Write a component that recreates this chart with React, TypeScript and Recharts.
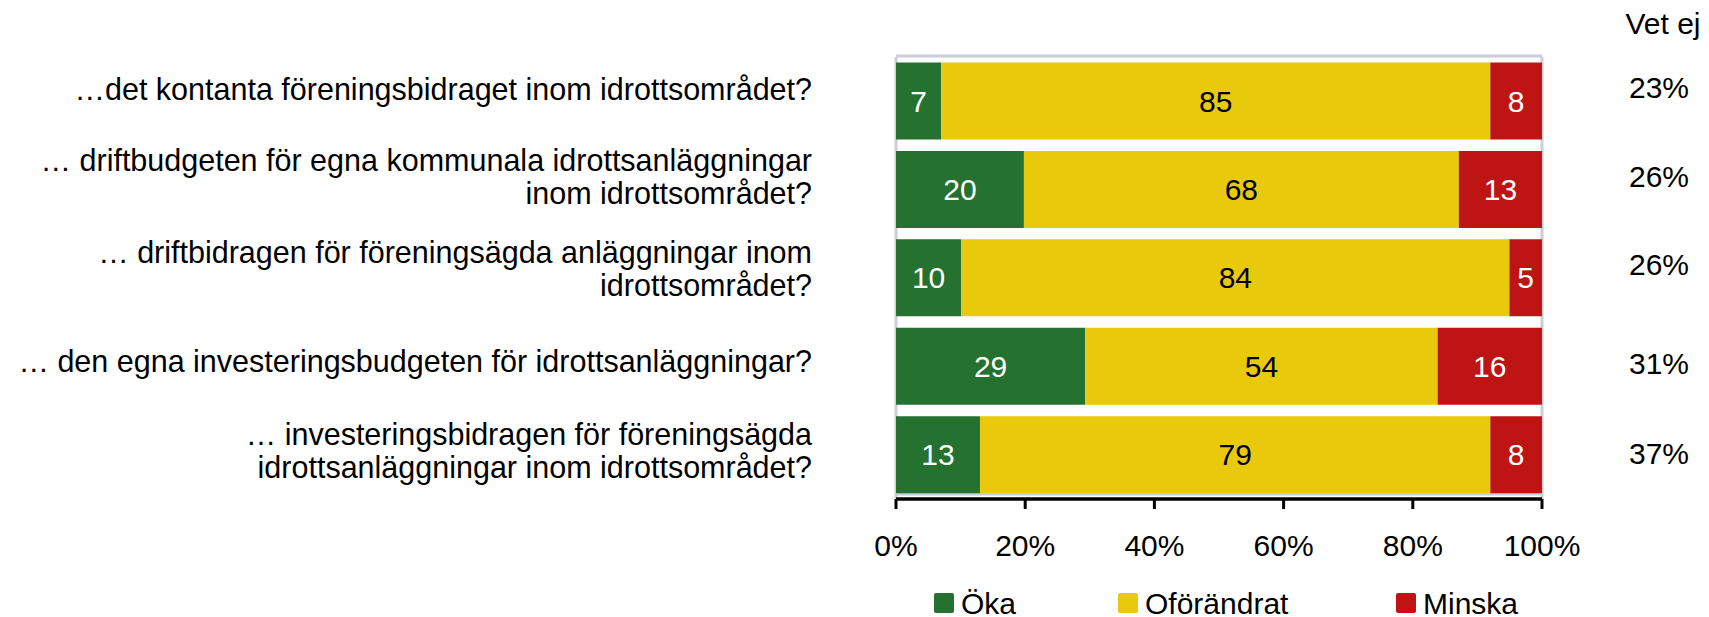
import React from "react";
import { BarChart, Bar, XAxis, YAxis, CartesianGrid, LabelList, Legend } from "recharts";

const questions = [
  ["…det kontanta föreningsbidraget inom idrottsområdet?"],
  ["… driftbudgeten för egna kommunala idrottsanläggningar", "inom idrottsområdet?"],
  ["… driftbidragen för föreningsägda anläggningar inom", "idrottsområdet?"],
  ["… den egna investeringsbudgeten för idrottsanläggningar?"],
  ["… investeringsbidragen för föreningsägda", "idrottsanläggningar inom idrottsområdet?"],
];
const oka = [7, 20, 10, 29, 13];
const oforandrat = [85, 68, 84, 54, 79];
const minska = [8, 13, 5, 16, 8];
const vetEj = ["23%", "26%", "26%", "31%", "37%"];
const xTicks = [0, 0.2, 0.4, 0.6, 0.8, 1];

const series = [
  { key: "oka", name: "Öka", color: "#257230", text: "#ffffff" },
  { key: "oforandrat", name: "Oförändrat", color: "#e9c90b", text: "#000000" },
  { key: "minska", name: "Minska", color: "#be1414", text: "#ffffff" },
];

const data = questions.map((lines, i) => ({
  name: lines.join("\n"),
  oka: oka[i],
  oforandrat: oforandrat[i],
  minska: minska[i],
  vetej: vetEj[i],
}));

const FONT = "'Liberation Sans', Arial, sans-serif";
const FS = 30;
const LABEL_FS = 30.5;
const LINE = 33;
// excel places the text labels a bit off the bar centres
const leftShift = [-12, -13, -9, -5, -4];
const rightShift = [-14, -13, -14, -3, -1];

const LeftTick = (props: any) => {
  const { x, y, payload, index } = props;
  const lines = String(payload.value).split("\n");
  const y0 = y + leftShift[index] - ((lines.length - 1) * LINE) / 2;
  return (
    <text x={x - 82} y={y0} textAnchor="end" fontSize={LABEL_FS} fontFamily={FONT} fill="#000">
      {lines.map((l, k) => (
        <tspan key={k} x={x - 82} y={y0 + k * LINE} dy="0.35em">
          {l}
        </tspan>
      ))}
    </text>
  );
};

const RightTick = (props: any) => {
  const { x, y, index } = props;
  return (
    <text x={x + 115} y={y + rightShift[index]} dy="0.35em" textAnchor="middle" fontSize={FS} fontFamily={FONT} fill="#000">
      {vetEj[index]}
    </text>
  );
};

const legendX = [934, 1118, 1396];

const LegendBox = () => (
  <div style={{ position: "relative", width: 1709, height: 50, fontFamily: FONT, fontSize: FS }}>
    {series.map((s, i) => (
      <div key={s.key} style={{ position: "absolute", left: legendX[i], top: 26, display: "flex", alignItems: "flex-end" }}>
        <div style={{ width: 20, height: 20, background: s.color, borderRadius: 2 }} />
        <span style={{ marginLeft: 7, lineHeight: "20px", position: "relative", top: 1 }}>{s.name}</span>
      </div>
    ))}
  </div>
);

export default function App() {
  return (
    <div style={{ position: "absolute", left: 0, top: 0, width: 1709, height: 617, background: "#fff" }}>
      <div
        style={{
          position: "absolute",
          left: 1563,
          width: 200,
          top: 9,
          textAlign: "center",
          fontFamily: FONT,
          fontSize: FS,
          lineHeight: "30px",
        }}
      >
        Vet ej
      </div>
      <BarChart
        width={1709}
        height={617}
        data={data}
        layout="vertical"
        stackOffset="expand"
        barCategoryGap="6.25%"
        margin={{ top: 57, right: 0, bottom: 0, left: 0 }}
      >
        <CartesianGrid
          stroke="#c9ced9"
          strokeWidth={3}
          fill="none"
          horizontalCoordinatesGenerator={({ offset }: any) => [offset.top - 1, offset.top + offset.height - 5]}
          verticalCoordinatesGenerator={({ offset }: any) => [offset.left, offset.left + offset.width]}
        />
        <XAxis
          type="number"
          domain={[0, 1]}
          ticks={xTicks}
          tickFormatter={(v: number) => `${Math.round(v * 100)}%`}
          axisLine={{ stroke: "#000", strokeWidth: 3.5 }}
          tickLine={{ stroke: "#000", strokeWidth: 3 }}
          tickSize={10}
          tickMargin={26}
          tick={{ fill: "#000", fontSize: FS, fontFamily: FONT }}
          height={68}
          interval={0}
        />
        <YAxis
          yAxisId="left"
          type="category"
          dataKey="name"
          width={896}
          axisLine={false}
          tickLine={false}
          tickSize={0}
          tick={<LeftTick />}
          interval={0}
        />
        <YAxis
          yAxisId="right"
          orientation="right"
          type="category"
          dataKey="name"
          width={167}
          axisLine={false}
          tickLine={false}
          tickSize={0}
          tick={<RightTick />}
          interval={0}
        />
        <Legend verticalAlign="bottom" wrapperStyle={{ left: 0, width: 1709, height: 50 }} content={<LegendBox />} />
        {series.map((s) => (
          <Bar key={s.key} dataKey={s.key} name={s.name} stackId="a" yAxisId="left" fill={s.color} isAnimationActive={false}>
            <LabelList dataKey={s.key} position="center" fill={s.text} fontSize={FS} fontFamily={FONT} />
          </Bar>
        ))}
      </BarChart>
    </div>
  );
}
